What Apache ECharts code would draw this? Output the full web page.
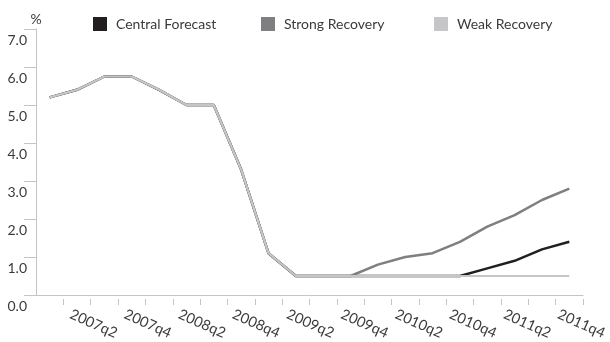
<!DOCTYPE html>
<html>
<head>
<meta charset="utf-8">
<script src="https://cdn.jsdelivr.net/npm/echarts@6/dist/echarts.min.js"></script>
<style>
  html, body { margin: 0; padding: 0; background: #ffffff; }
  #chart { width: 610px; height: 342px; }
</style>
</head>
<body>
<div id="chart"></div>
<script>
// Quarterly periods on the x axis
const quarters = [
  '2007q1', '2007q2', '2007q3', '2007q4',
  '2008q1', '2008q2', '2008q3', '2008q4',
  '2009q1', '2009q2', '2009q3', '2009q4',
  '2010q1', '2010q2', '2010q3', '2010q4',
  '2011q1', '2011q2', '2011q3', '2011q4'
];

// Rate paths (%) under each scenario
const centralForecast = [5.2, 5.4, 5.75, 5.75, 5.4, 5.0, 5.0, 3.3, 1.1, 0.5, 0.5, 0.5, 0.5, 0.5, 0.5, 0.5, 0.7, 0.9, 1.2, 1.4];
const strongRecovery  = [5.2, 5.4, 5.75, 5.75, 5.4, 5.0, 5.0, 3.3, 1.1, 0.5, 0.5, 0.5, 0.8, 1.0, 1.1, 1.4, 1.8, 2.1, 2.5, 2.8];
const weakRecovery    = [5.2, 5.4, 5.75, 5.75, 5.4, 5.0, 5.0, 3.3, 1.1, 0.5, 0.5, 0.5, 0.5, 0.5, 0.5, 0.5, 0.5, 0.5, 0.5, 0.5];

// Y axis range and step
const yMin = 0, yMax = 7, yStep = 1;

const FONT = 'Lato';
const TEXT = '#3a3a3a';
const AXIS = '#c4c4c4';
const C_CENTRAL = '#231f20';
const C_STRONG = '#7f7f82';
const C_WEAK = '#c6c6c8';

const chart = echarts.init(document.getElementById('chart'), null, { renderer: 'canvas' });

function legendAt(name, left) {
  return {
    data: [name],
    left: left,
    top: 12,
    icon: 'rect',
    itemWidth: 14,
    itemHeight: 14,
    itemGap: 0,
    textStyle: { fontFamily: FONT, fontSize: 14, color: TEXT, padding: [0, 0, 0, 4], lineHeight: 14 }
  };
}

const everyOther = (i) => i % 2 === 1;

chart.setOption({
  animation: false,
  textStyle: { fontFamily: FONT },
  legend: [
    legendAt('Central Forecast', 88),
    legendAt('Strong Recovery', 256),
    legendAt('Weak Recovery', 429)
  ],
  grid: [
    { left: 36, right: 27, top: 29, bottom: 47 },
    // label row, nudged left so rotated labels start under their quarter
    { left: 30, right: 33, top: 29, bottom: 47 }
  ],
  xAxis: [
    {
      type: 'category',
      position: 'bottom',
      data: quarters,
      boundaryGap: true,
      axisLine: { show: true, lineStyle: { color: AXIS, width: 1 } },
      axisTick: { show: false },
      axisLabel: { show: false }
    },
    {
      type: 'category',
      position: 'bottom',
      gridIndex: 1,
      data: quarters,
      boundaryGap: true,
      axisLine: { show: false },
      axisTick: { show: false },
      axisLabel: {
        interval: everyOther,
        rotate: -24,
        margin: 24,
        fontFamily: FONT,
        fontSize: 14.5,
        color: TEXT
      }
    },
    {
      // tick row set a little below the axis line
      type: 'category',
      position: 'bottom',
      data: quarters,
      boundaryGap: true,
      offset: 4,
      axisLine: { show: false },
      axisTick: { show: true, length: 6, interval: (i) => i > 0, lineStyle: { color: AXIS, width: 1 } },
      axisLabel: { show: false }
    }
  ],
  yAxis: [
    {
      type: 'value',
      min: yMin,
      max: yMax,
      interval: yStep,
      name: '%',
      nameLocation: 'end',
      nameGap: 3,
      nameTextStyle: { fontFamily: FONT, fontSize: 14, color: TEXT, align: 'center' },
      axisLine: { show: true, lineStyle: { color: AXIS, width: 1 } },
      axisTick: { show: true, length: 12, lineStyle: { color: AXIS, width: 1 } },
      splitLine: { show: false },
      axisLabel: {
        margin: 9,
        fontFamily: FONT,
        fontSize: 14,
        color: TEXT,
        verticalAlign: 'top',
        lineHeight: 14,
        padding: [4, 0, 0, 0],
        formatter: (v) => v.toFixed(1)
      }
    },
    { type: 'value', gridIndex: 1, min: yMin, max: yMax, show: false }
  ],
  series: [
    {
      name: 'Central Forecast', type: 'line', data: centralForecast,
      color: C_CENTRAL, showSymbol: false, symbol: 'none',
      lineStyle: { color: C_CENTRAL, width: 2.5 }, z: 2
    },
    {
      name: 'Strong Recovery', type: 'line', data: strongRecovery,
      color: C_STRONG, showSymbol: false, symbol: 'none',
      lineStyle: { color: C_STRONG, width: 2.5 }, z: 3
    },
    {
      name: 'Weak Recovery', type: 'line', data: weakRecovery,
      color: C_WEAK, showSymbol: false, symbol: 'none',
      lineStyle: { color: C_WEAK, width: 2.2 }, z: 4
    }
  ]
});
</script>
</body>
</html>
